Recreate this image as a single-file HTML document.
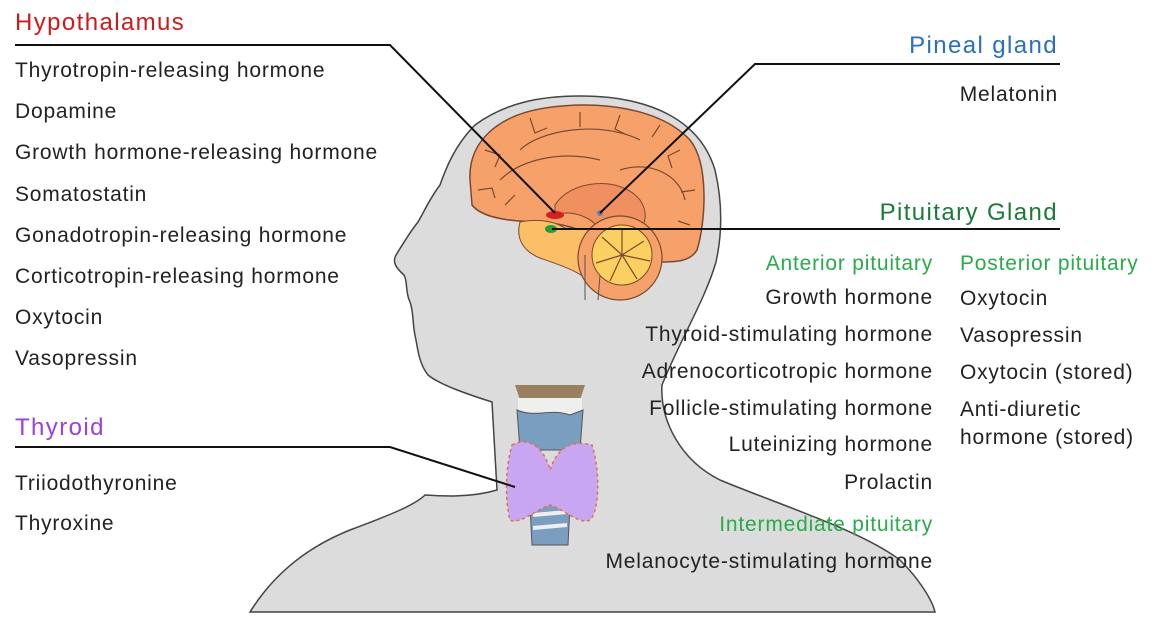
<!DOCTYPE html>
<html><head><meta charset="utf-8"><style>
html,body{margin:0;padding:0;background:#fff;}
svg{display:block}
text{font-family:"Liberation Sans",sans-serif;font-size:21px;letter-spacing:0.8px;fill:#222}
.t{font-size:24px;letter-spacing:1.4px}
</style></head><body>
<svg width="1162" height="633" viewBox="0 0 1162 633" xmlns="http://www.w3.org/2000/svg">
<path d="M250,612 C270,580 300,550 350,530 C390,515 415,505 425,495 C440,496 470,498 497,490 L492,402 C470,395 440,385 428,375 C420,365 418,352 416,340 C412,325 414,312 410,302 C405,292 408,282 404,275 C396,268 392,262 396,255 C404,242 410,232 418,222 C425,210 430,198 440,185 C446,168 455,145 475,125 C505,103 540,96 580,96 C650,96 700,120 715,170 C722,200 723,230 716,262 C705,300 680,340 662,385 C660,420 680,460 720,480 C780,505 860,530 900,560 C920,580 932,600 935,612 Z" fill="#dcdcdc" stroke="#444" stroke-width="1.5"/>
<path d="M470,180 C468,140 500,115 545,108 C600,100 660,108 690,140 C710,165 705,225 697,250 C690,262 675,262 660,262 L600,240 C580,228 565,225 545,222 C510,222 482,218 472,205 Z" fill="#f6a06a" stroke="#7a4a30" stroke-width="1.5"/>
<g stroke="#7a4a30" fill="none" stroke-width="1.2">
<path d="M520,150 C540,130 600,120 640,140 M500,180 C520,160 560,150 600,160 M620,170 C650,160 680,175 685,200 M560,200 C580,180 620,180 640,200"/>
<path d="M485,150 l15,5 l-5,12 M530,118 l5,15 l12,-5 M580,112 l0,15 M620,115 l-5,14 l10,5 M660,125 l-8,12 M680,150 l-12,6 l4,12 M695,190 l-14,2 M690,225 l-12,-4 M478,190 l14,-2 l3,10 M505,205 l10,-10"/>
</g>
<path d="M555,205 C570,180 620,175 640,200 C650,215 645,230 630,238 L600,230 C590,215 570,210 555,215 Z" fill="#f09060" stroke="#7a4a30" stroke-width="1"/>
<path d="M520,222 C540,218 555,222 565,228 L600,230 C610,250 600,275 585,278 C575,270 560,265 540,258 C525,252 515,240 520,222 Z" fill="#fbbf68" stroke="#7a4a30" stroke-width="1"/>
<circle cx="620" cy="258" r="42" fill="#f6a06a" stroke="#7a4a30" stroke-width="1.2"/>
<circle cx="622" cy="255" r="30" fill="#fcd060" stroke="#7a4a30" stroke-width="1"/>
<g stroke="#7a4a30" stroke-width="1.2"><path d="M622,255 l0,-26 M622,255 l22,-14 M622,255 l28,6 M622,255 l15,24 M622,255 l-12,26 M622,255 l-26,8 M622,255 l-20,-18"/></g>
<path d="M585,255 L585,300 M600,275 L598,300" stroke="#555" fill="none"/>
<ellipse cx="555" cy="215" rx="9" ry="4" fill="#d42020"/>
<ellipse cx="551" cy="229" rx="6" ry="4" fill="#2a9a3a"/>
<circle cx="600" cy="213" r="3" fill="#6a7faa"/>
<path d="M515,385 L585,385 L580,400 L520,400 Z" fill="#9a8060"/>
<path d="M518,398 L582,398 L582,420 L518,420 Z" fill="#eef0ee"/>
<path d="M517,410 C535,418 550,408 570,415 L583,410 L580,450 L520,450 Z" fill="#7a9ec0" stroke="#555" stroke-width="1"/>
<path d="M530,505 L570,505 L568,545 L532,545 Z" fill="#7a9ec0" stroke="#555"/>
<path d="M533,515 L567,512 M533,528 L567,525" stroke="#eee" stroke-width="4"/>
<path d="M512,445 C530,435 545,450 550,470 C555,455 565,438 592,445 C600,470 600,510 590,520 C580,525 565,510 550,505 C535,510 520,525 510,520 C505,500 505,470 512,445 Z" fill="#c9a6f2" stroke="#e0704a" stroke-width="1.5" stroke-dasharray="3 3"/>
<g stroke="#111" stroke-width="2" fill="none">
<path d="M15,45 L390,45 L555,213"/>
<path d="M1060,64 L755,64 L600,213"/>
<path d="M1060,229 L552,229"/>
<path d="M15,447 L390,447 L515,487"/>
</g>
<text x="15" y="30" class="t" style="fill:#d01818">Hypothalamus</text>
<text x="15" y="77">Thyrotropin-releasing hormone</text>
<text x="15" y="118">Dopamine</text>
<text x="15" y="159">Growth hormone-releasing hormone</text>
<text x="15" y="201">Somatostatin</text>
<text x="15" y="242">Gonadotropin-releasing hormone</text>
<text x="15" y="283">Corticotropin-releasing hormone</text>
<text x="15" y="324">Oxytocin</text>
<text x="15" y="365">Vasopressin</text>
<text x="15" y="435" class="t" style="fill:#9a40e0">Thyroid</text>
<text x="15" y="490">Triiodothyronine</text>
<text x="15" y="530">Thyroxine</text>
<text x="1058" y="53" text-anchor="end" class="t" style="fill:#2a70c0">Pineal gland</text>
<text x="1058" y="101" text-anchor="end">Melatonin</text>
<text x="1058" y="220" text-anchor="end" class="t" style="fill:#1a7a3a">Pituitary Gland</text>
<g text-anchor="end">
<text x="933" y="270" style="fill:#2aaa4a">Anterior pituitary</text>
<text x="933" y="304">Growth hormone</text>
<text x="933" y="341">Thyroid-stimulating hormone</text>
<text x="933" y="378">Adrenocorticotropic hormone</text>
<text x="933" y="415">Follicle-stimulating hormone</text>
<text x="933" y="451">Luteinizing hormone</text>
<text x="933" y="489">Prolactin</text>
<text x="933" y="531" style="fill:#2aaa4a">Intermediate pituitary</text>
<text x="933" y="568">Melanocyte-stimulating hormone</text>
</g>
<text x="960" y="270" style="fill:#2aaa4a">Posterior pituitary</text>
<text x="960" y="305">Oxytocin</text>
<text x="960" y="342">Vasopressin</text>
<text x="960" y="379">Oxytocin (stored)</text>
<text x="960" y="416">Anti-diuretic</text>
<text x="960" y="444">hormone (stored)</text>
</svg>
</body></html>
